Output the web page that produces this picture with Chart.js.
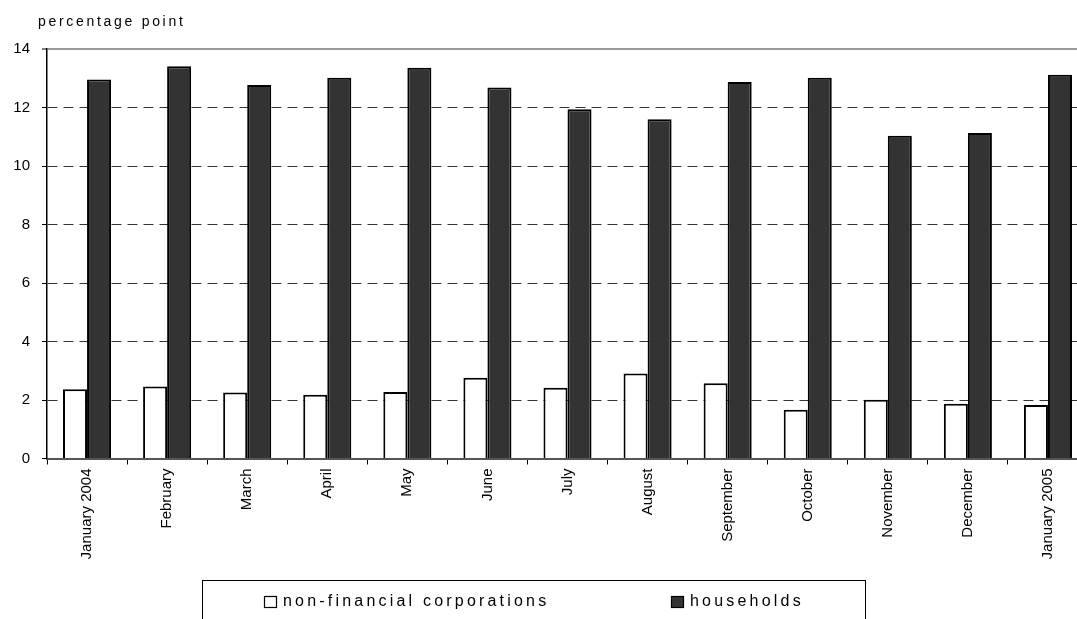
<!DOCTYPE html>
<html>
<head>
<meta charset="utf-8">
<title>percentage point</title>
<script src="https://cdn.jsdelivr.net/npm/chart.js@4.4.1/dist/chart.umd.min.js"></script>
<style>
  html, body { margin: 0; padding: 0; background: #fff; overflow: hidden; }
  #wrap { position: relative; width: 1092px; height: 619px; }
</style>
</head>
<body>
<div id="wrap"><canvas id="plot" width="1092" height="619"></canvas></div>
<script>
// categorias (meses) y valores
const meses = ['January 2004', 'February', 'March', 'April', 'May', 'June', 'July',
  'August', 'September', 'October', 'November', 'December', 'January 2005'];
const empresas = [2.37, 2.46, 2.26, 2.18, 2.27, 2.76, 2.42, 2.91, 2.57, 1.67, 2.01, 1.87, 1.83];
const hogares = [12.96, 13.41, 12.77, 13.02, 13.36, 12.68, 11.94, 11.60, 12.87, 13.02, 11.03, 11.13, 13.12];
const ticksY = [0, 2, 4, 6, 8, 10, 12, 14];
const nombres = ['non-financial corporations', 'households'];
const tituloEje = 'percentage point';

const fuente = '"Liberation Sans", Arial, sans-serif';

// titulo del eje y leyenda con marco
let extras = {
  id: 'extras',
  afterDraw(chart) {
    const ctx = chart.ctx;
    ctx.save();
    ctx.fillStyle = '#000';
    ctx.textBaseline = 'middle';
    ctx.textAlign = 'left';
    ctx.font = '14px ' + fuente;
    ctx.letterSpacing = '2.7px';
    ctx.fillText(tituloEje, 38, 22);

    // marco de la leyenda (cortado abajo como en el original)
    ctx.letterSpacing = '0px';
    ctx.strokeStyle = '#000';
    ctx.lineWidth = 1;
    ctx.strokeRect(202.5, 580.5, 663, 60);

    ctx.font = '16px ' + fuente;
    ctx.letterSpacing = '3.2px';
    let posiciones = [264, 671];
    chart.data.datasets.forEach((ds, i) => {
      const x = posiciones[i];
      ctx.fillStyle = ds.backgroundColor;
      ctx.fillRect(x, 596, 12, 11);
      ctx.strokeStyle = '#000';
      ctx.lineWidth = 1.2;
      ctx.strokeRect(x + 0.5, 596.5, 12, 11);
      ctx.fillStyle = '#000';
      ctx.fillText(ds.label, x + 19, 602);
    });
    ctx.restore();
  }
};

let plotRef = document.getElementById('plot');

let config = {
  type: 'bar',
  data: {
    labels: meses,
    datasets: [
      {
        label: nombres[0],
        data: empresas,
        backgroundColor: '#ffffff',
        borderColor: '#000000',
        borderWidth: 2,
        categoryPercentage: 0.6,
        barPercentage: 1.0
      },
      {
        label: nombres[1],
        data: hogares,
        backgroundColor: '#333333',
        borderColor: '#000000',
        borderWidth: 2,
        categoryPercentage: 0.6,
        barPercentage: 1.0
      }
    ]
  },
  options: {
    responsive: false,
    animation: false,
    layout: { padding: { top: 49, right: 4, left: 0, bottom: 0 } },
    plugins: {
      legend: { display: false },
      tooltip: { enabled: false }
    },
    scales: {
      x: {
        afterFit: (scale) => { scale.height = 160.5; },
        grid: {
          offset: true,
          drawOnChartArea: false,
          drawTicks: true,
          tickLength: 6,
          tickColor: '#000',
          tickWidth: 1,
          tickBorderDash: []
        },
        border: { color: '#555', width: 2 },
        ticks: {
          color: '#000',
          font: { family: fuente, size: 15 },
          minRotation: 90,
          maxRotation: 90,
          autoSkip: false,
          padding: 4
        }
      },
      y: {
        min: 0,
        max: 14,
        afterFit: (scale) => { scale.width = 47; },
        afterBuildTicks: (scale) => { scale.ticks = ticksY.map(v => ({ value: v })); },
        grid: {
          color: (c) => {
            if (!c.tick) return '#333';
            if (c.tick.value === 0) return 'rgba(0,0,0,0)';
            if (c.tick.value === 14) return '#999';
            return '#333';
          },
          lineWidth: (c) => (c.tick && c.tick.value === 14) ? 2 : 1,
          drawTicks: true,
          tickLength: 5,
          tickColor: '#000',
          tickWidth: 1,
          tickBorderDash: []
        },
        border: {
          color: '#000',
          width: 1.5,
          dash: (c) => (c.tick && c.tick.value === 14) ? [] : [10, 6]
        },
        ticks: {
          color: '#000',
          font: { family: fuente, size: 15 },
          padding: 12
        }
      }
    }
  },
  plugins: [extras]
};

let chart1 = new Chart(plotRef, config);
</script>
</body>
</html>
